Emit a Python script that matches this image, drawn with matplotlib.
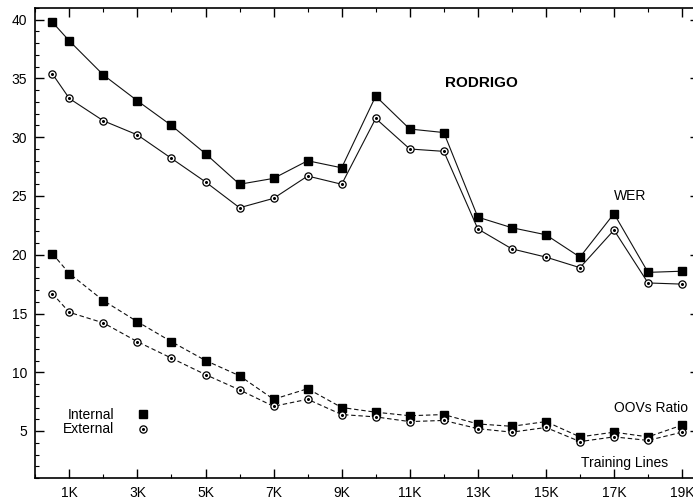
import matplotlib
matplotlib.use('Agg')
import matplotlib.pyplot as plt
from matplotlib.lines import Line2D
from matplotlib.ticker import MultipleLocator, FixedLocator

plt.rcParams['font.family'] = ['Liberation Sans', 'DejaVu Sans']

# training lines (thousands)
xs = [0.5, 1, 2, 3, 4, 5, 6, 7, 8, 9, 10, 11, 12, 13, 14, 15, 16, 17, 18, 19]

wer_internal = [39.8, 38.2, 35.3, 33.1, 31.0, 28.6, 26.0, 26.5, 28.0, 27.4,
                33.5, 30.7, 30.4, 23.2, 22.3, 21.7, 19.8, 23.5, 18.5, 18.6]
wer_external = [35.4, 33.3, 31.4, 30.2, 28.2, 26.2, 24.0, 24.8, 26.7, 26.0,
                31.6, 29.0, 28.8, 22.2, 20.5, 19.8, 18.9, 22.1, 17.6, 17.5]
oov_internal = [20.1, 18.4, 16.1, 14.3, 12.6, 11.0, 9.7, 7.7, 8.6, 7.0,
                6.6, 6.3, 6.4, 5.6, 5.4, 5.8, 4.5, 4.9, 4.5, 5.5]
oov_external = [16.7, 15.1, 14.2, 12.6, 11.2, 9.8, 8.5, 7.1, 7.7, 6.4,
                6.2, 5.8, 5.9, 5.2, 4.9, 5.3, 4.1, 4.5, 4.2, 4.9]

xticks_major = [1, 3, 5, 7, 9, 11, 13, 15, 17, 19]
xtick_labels = ['1K', '3K', '5K', '7K', '9K', '11K', '13K', '15K', '17K', '19K']

fig = plt.figure(figsize=(6.93, 4.99), dpi=100)
ax = fig.add_axes([35.3 / 693, 21 / 499, 663.8 / 693, 470 / 499])

lc = '#111111'
lw = 0.8
ms = 5.2
dash = (0, (4, 2.5))

# WER
ax.plot(xs, wer_internal, color=lc, lw=lw, marker='s', ms=ms, mfc='black', mec='black')
ax.plot(xs, wer_external, color=lc, lw=lw, marker='o', ms=ms, mfc='white', mec='black', mew=0.9)
ax.plot(xs, wer_external, ls='none', marker='o', ms=1.2, color='black')

# OOV
ax.plot(xs, oov_internal, color=lc, lw=lw, ls=dash, marker='s', ms=ms, mfc='black', mec='black')
ax.plot(xs, oov_external, color=lc, lw=lw, ls=dash, marker='o', ms=ms, mfc='white', mec='black', mew=0.9)
ax.plot(xs, oov_external, ls='none', marker='o', ms=1.2, color='black')

ax.set_xlim(0, 19.5)
ax.set_ylim(1, 41)

ax.xaxis.set_major_locator(FixedLocator(xticks_major))
ax.set_xticklabels(xtick_labels)
ax.xaxis.set_minor_locator(MultipleLocator(1))
ax.yaxis.set_major_locator(MultipleLocator(5))
ax.yaxis.set_minor_locator(MultipleLocator(1))
ax.set_yticks([5, 10, 15, 20, 25, 30, 35, 40])

ax.tick_params(which='both', direction='in', top=True, right=True, labelsize=10, colors='black')
ax.tick_params(which='major', length=6.5, width=1.0, pad=6)
ax.tick_params(which='minor', length=3, width=0.8)
for s in ax.spines.values():
    s.set_linewidth(1.2)

ax.text(13.12, 34.6, 'RODRIGO', fontsize=11, fontweight='bold', ha='center', va='center')
ax.text(17.0, 25.0, 'WER', fontsize=10, ha='left', va='center')
ax.text(17.0, 6.96, 'OOVs Ratio', fontsize=10, ha='left', va='center')
ax.text(16.03, 2.28, 'Training Lines', fontsize=10, ha='left', va='center')

h_int = Line2D([], [], ls='none', marker='s', ms=ms, color='black')
h_ext_o = Line2D([], [], ls='none', marker='o', ms=ms, mfc='white', mec='black', mew=0.9)
h_ext_d = Line2D([], [], ls='none', marker='o', ms=1.2, color='black')
ax.legend([h_int, (h_ext_o, h_ext_d)], ['Internal', 'External'],
          loc='center right', bbox_to_anchor=(0.1728, 0.119), markerfirst=False,
          frameon=False, fontsize=10, handlelength=1.0, handletextpad=1.6,
          labelspacing=0.05, borderpad=0, borderaxespad=0)

fig.savefig('out.png', dpi=100)
